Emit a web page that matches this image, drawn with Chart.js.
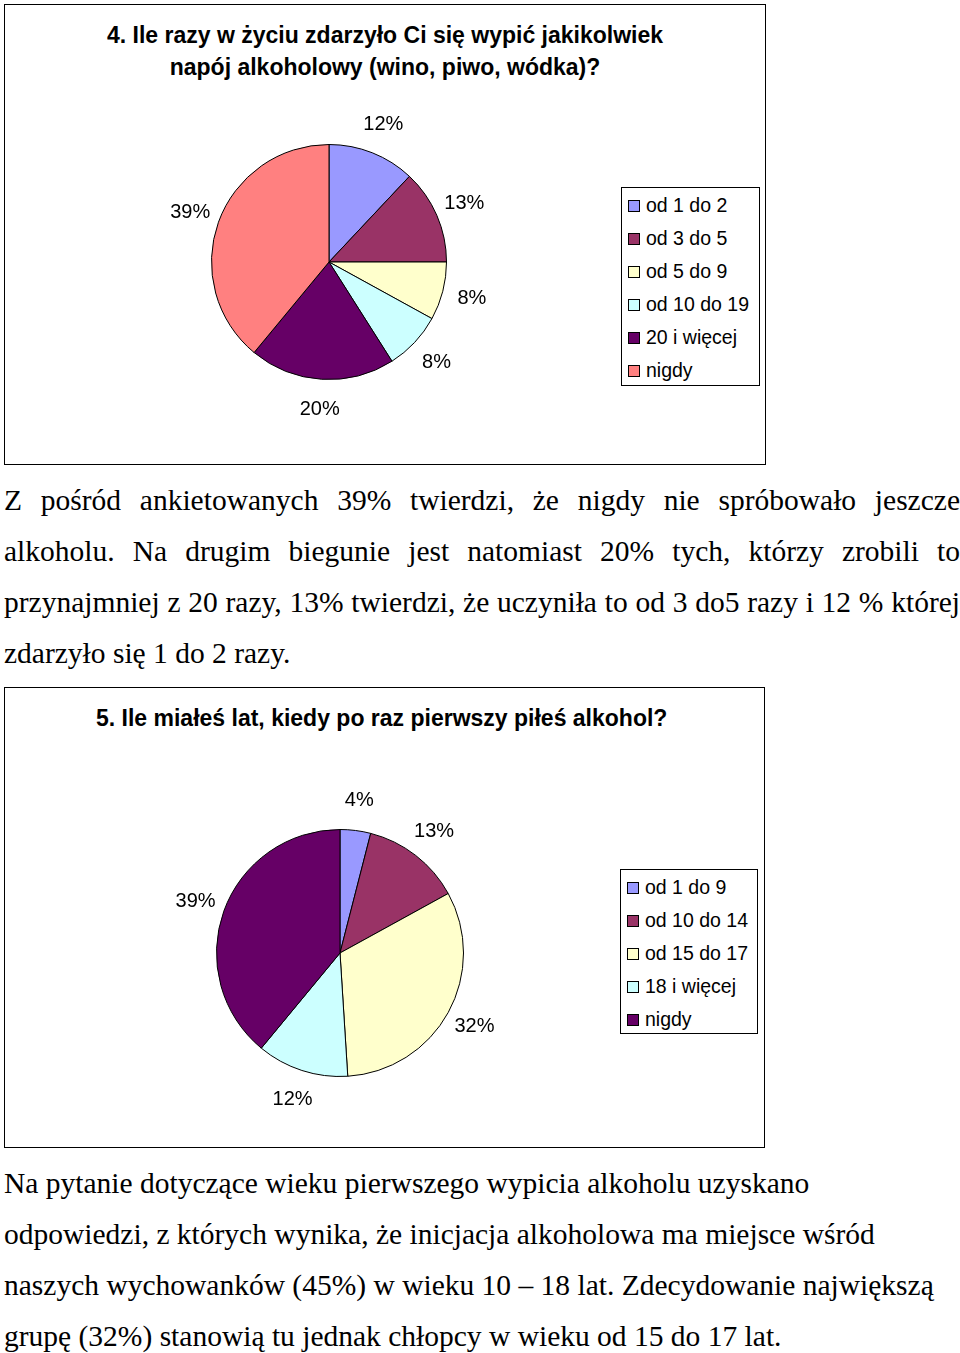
<!DOCTYPE html>
<html><head><meta charset="utf-8">
<script src="https://cdn.jsdelivr.net/npm/chart.js@4"></script>
<style>
body{margin:0;width:960px;height:1353px;position:relative;background:#fff;font-family:"Liberation Serif",serif;}
.box{position:absolute;border:1px solid #000;box-sizing:border-box;}
.title{position:absolute;font-family:"Liberation Sans",Arial,sans-serif;font-weight:bold;font-size:23px;text-align:center;line-height:32px;color:#000;}
.legend{position:absolute;border:1px solid #000;font-family:"Liberation Sans",Arial,sans-serif;font-size:19.5px;box-sizing:border-box;padding:1px 0 0 6px;}
.legend div{height:33px;line-height:33px;white-space:nowrap;}
.legend span{display:inline-block;width:10px;height:10px;border:1px solid #000;margin-right:6px;vertical-align:0px;}
.p{position:absolute;left:4px;width:956px;font-size:29.5px;line-height:51px;}
.p div{white-space:nowrap;}
.j div{text-align:justify;text-align-last:justify;white-space:normal;}
.j div.last{text-align-last:left;}
canvas{position:absolute;}
</style></head><body>
<div class="box" style="left:4px;top:4px;width:762px;height:461px"></div>
<div class="title" style="left:4px;top:19px;width:762px">4. Ile razy w życiu zdarzyło Ci się wypić jakikolwiek<br>napój alkoholowy (wino, piwo, wódka)?</div>
<canvas id="c1" width="400" height="400" style="left:129px;top:62px;width:400px;height:400px"></canvas>
<div class="legend" id="l1" style="left:621px;top:187px;width:139px;height:199px"></div>
<div class="p j" style="top:475px"><div>Z pośród ankietowanych 39% twierdzi, że nigdy nie spróbowało jeszcze</div><div>alkoholu. Na drugim biegunie jest natomiast 20% tych, którzy zrobili to</div><div>przynajmniej z 20 razy, 13% twierdzi, że uczyniła to od 3 do5 razy i 12 % której</div><div class="last">zdarzyło się 1 do 2 razy.</div></div>
<div class="box" style="left:4px;top:687px;width:761px;height:461px"></div>
<div class="title" style="left:4px;top:702px;width:761px;text-align:left;padding-left:92px;box-sizing:border-box">5. Ile miałeś lat, kiedy po raz pierwszy piłeś alkohol?</div>
<canvas id="c2" width="400" height="400" style="left:140px;top:753px;width:400px;height:400px"></canvas>
<div class="legend" id="l2" style="left:620px;top:869px;width:138px;height:165px"></div>
<div class="p" style="top:1158px"><div>Na pytanie dotyczące wieku pierwszego wypicia alkoholu uzyskano</div><div>odpowiedzi, z których wynika, że inicjacja alkoholowa ma miejsce wśród</div><div>naszych wychowanków (45%) w wieku 10 – 18 lat. Zdecydowanie największą</div><div>grupę (32%) stanowią tu jednak chłopcy w wieku od 15 do 17 lat.</div></div>
<script>
const cats1=["od 1 do 2","od 3 do 5","od 5 do 9","od 10 do 19","20 i więcej","nigdy"];
const vals1=[12,13,8,8,20,39];
const cols1=["#9999FF","#993366","#FFFFCC","#CCFFFF","#660066","#FF8080"];
const cats2=["od 1 do 9","od 10 do 14","od 15 do 17","18 i więcej","nigdy"];
const vals2=[4,13,32,12,39];
const cols2=["#9999FF","#993366","#FFFFCC","#CCFFFF","#660066"];
const labelPlugin={id:'lbl',afterDatasetsDraw(ch){const ctx=ch.ctx;const meta=ch.getDatasetMeta(0);
 ctx.save();ctx.font='20px "Liberation Sans", Arial';ctx.fillStyle='#000';ctx.textAlign='center';ctx.textBaseline='middle';
 meta.data.forEach((a,i)=>{const m=(a.startAngle+a.endAngle)/2;const r=a.outerRadius+30;
  ctx.fillText(ch.data.datasets[0].data[i]+'%',a.x+Math.cos(m)*r,a.y+Math.sin(m)*r);});ctx.restore();}};
function mk(id,cats,vals,cols,pad,lid){
 new Chart(document.getElementById(id),{type:'pie',data:{labels:cats,datasets:[{data:vals,backgroundColor:cols,borderColor:'#000',borderWidth:1}]},
 options:{responsive:false,animation:false,layout:{padding:pad},plugins:{legend:{display:false},tooltip:{enabled:false}}},plugins:[labelPlugin]});
 document.getElementById(lid).innerHTML=cats.map((c,i)=>`<div><span style="background:${cols[i]}"></span>${c}</div>`).join('');
}
mk('c1',cats1,vals1,cols1,82,'l1');
mk('c2',cats2,vals2,cols2,76,'l2');
</script>
</body></html>
